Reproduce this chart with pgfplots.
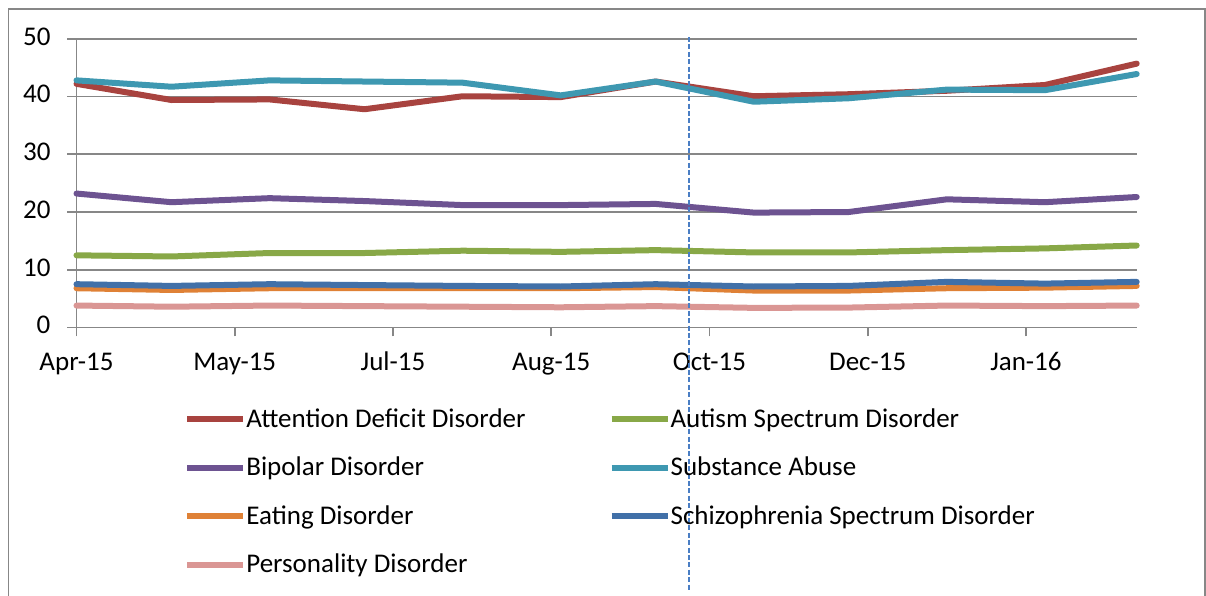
\documentclass[border=0pt]{standalone}
\usepackage{fontspec}
\setmainfont{Carlito}
\usepackage{pgfplots}
\pgfplotsset{compat=1.18}
\definecolor{cADD}{HTML}{A8433F}
\definecolor{cAUT}{HTML}{88A847}
\definecolor{cBIP}{HTML}{6D5391}
\definecolor{cSUB}{HTML}{3E98B1}
\definecolor{cEAT}{HTML}{DF8136}
\definecolor{cSCH}{HTML}{4170A8}
\definecolor{cPER}{HTML}{DA9694}
\definecolor{cGrid}{HTML}{878787}
\definecolor{cDash}{HTML}{4A7EC4}
\begin{document}
\begin{tikzpicture}
\useasboundingbox (0pt,0pt) rectangle (603pt,297.5pt);
\draw[cGrid, line width=0.8pt] (4.25pt,-5pt) -- (4.25pt,293pt) -- (602.5pt,293pt) -- (602.5pt,-5pt);
\begin{axis}[
  at={(38.25pt,133.75pt)}, anchor=south west,
  scale only axis, width=530.1pt, height=144.35pt,
  xmin=0, xmax=335, ymin=0, ymax=50,
  clip=false,
  axis lines=left, axis line style={-, cGrid, line width=0.9pt},
  tick align=outside, major tick length=4.5pt,
  tick style={cGrid, line width=0.9pt},
  xtick={0,50,100,150,200,250,300},
  xticklabels={Apr-15,May-15,Jul-15,Aug-15,Oct-15,Dec-15,Jan-16},
  ytick={0,10,20,30,40,50},
  ymajorgrids, grid style={cGrid, line width=0.9pt},
  /pgf/number format/assume math mode=true,
  typeset ticklabels with strut,
  ticklabel style={font=\fontsize{13.5}{16}\selectfont},
  xticklabel style={yshift=-2.5pt},
  yticklabel style={xshift=-5pt},
  legend columns=2,
  legend style={draw=none, fill=none, font=\fontsize{13.5}{16}\selectfont,
    at={(0.0957,-0.251)}, anchor=north west, row sep=9.4pt,
    nodes={inner xsep=0pt},
    /tikz/column 2/.style={column sep=41.5pt}},
  legend cell align=left,
  legend image code/.code={\draw[#1, line width=3pt, line cap=butt] (0pt,0pt) -- (28pt,0pt);},
  every axis plot/.append style={line width=3pt, line join=round, line cap=round},
]
\addplot[cADD] coordinates {(0,42.2) (30,39.4) (61,39.5) (91,37.8) (122,40.05) (153,39.9) (183,42.6) (214,40.05) (244,40.4) (275,41.0) (306,42.0) (335,45.7)};
\addlegendentry{Attention Deficit Disorder}
\addplot[cAUT] coordinates {(0,12.5) (30,12.3) (61,12.9) (91,12.9) (122,13.3) (153,13.1) (183,13.4) (214,13.0) (244,13.0) (275,13.4) (306,13.7) (335,14.2)};
\addlegendentry{Autism Spectrum Disorder}
\addplot[cBIP] coordinates {(0,23.2) (30,21.7) (61,22.4) (91,21.9) (122,21.2) (153,21.2) (183,21.4) (214,19.9) (244,20.0) (275,22.2) (306,21.7) (335,22.6)};
\addlegendentry{Bipolar Disorder}
\addplot[cSUB] coordinates {(0,42.8) (30,41.7) (61,42.8) (91,42.6) (122,42.4) (153,40.2) (183,42.6) (214,39.1) (244,39.7) (275,41.2) (306,41.1) (335,43.9)};
\addlegendentry{Substance Abuse}
\addplot[cEAT] coordinates {(0,6.8) (30,6.5) (61,6.8) (91,6.8) (122,6.8) (153,6.8) (183,7.0) (214,6.4) (244,6.4) (275,6.8) (306,6.9) (335,7.2)};
\addlegendentry{Eating Disorder}
\addplot[cSCH] coordinates {(0,7.5) (30,7.2) (61,7.5) (91,7.35) (122,7.2) (153,7.1) (183,7.5) (214,7.1) (244,7.2) (275,7.9) (306,7.6) (335,7.9)};
\addlegendentry{Schizophrenia Spectrum Disorder}
\addplot[cPER] coordinates {(0,3.8) (30,3.6) (61,3.8) (91,3.7) (122,3.6) (153,3.5) (183,3.7) (214,3.4) (244,3.45) (275,3.8) (306,3.7) (335,3.8)};
\addlegendentry{Personality Disorder}
\addplot[cDash, line width=0.8pt, dash pattern=on 2.5pt off 1.2pt, line cap=butt, forget plot] coordinates {(193.6,50.3) (193.6,-45.4)};
\end{axis}
\end{tikzpicture}
\end{document}
